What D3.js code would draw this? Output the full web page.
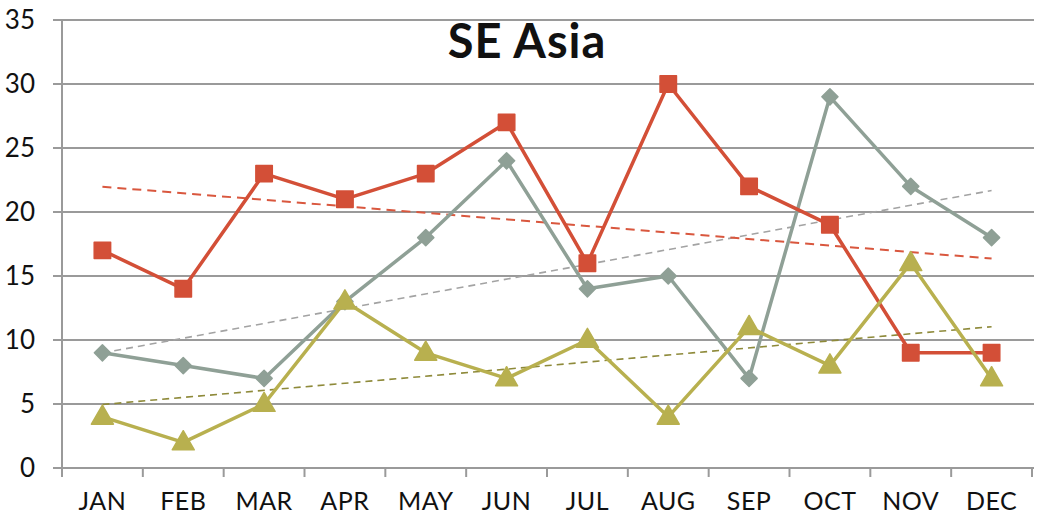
<!DOCTYPE html>
<html>
<head>
<meta charset="utf-8">
<script src="https://cdn.jsdelivr.net/npm/d3@7"></script>
<style>
  body { margin: 0; background: #fff; }
  svg text { font-family: "Lato", "DejaVu Sans", sans-serif; fill: #111; }
</style>
</head>
<body>
<div class="chart"></div>
<script>
// data
var months = ["JAN", "FEB", "MAR", "APR", "MAY", "JUN", "JUL", "AUG", "SEP", "OCT", "NOV", "DEC"];
var redValues = [17, 14, 23, 21, 23, 27, 16, 30, 22, 19, 9, 9];
var grayValues = [9, 8, 7, 13, 18, 24, 14, 15, 7, 29, 22, 18];
var oliveValues = [4, 2, 5, 13, 9, 7, 10, 4, 11, 8, 16, 7];
var yTicks = [0, 5, 10, 15, 20, 25, 30, 35];

var width = 1038, height = 518;
var margin = {top: 20, right: 6, bottom: 50, left: 62};
var w = width - margin.left - margin.right,
    h = height - margin.top - margin.bottom;

var series = [
  {values: grayValues, color: "#8fa096", trend: "#a3a3a3", marker: "diamond", trendDash: "7,5", trendWidth: 1.6},
  {values: redValues, color: "#d34f37", trend: "#d9573e", marker: "square", trendDash: "9,6", trendWidth: 2},
  {values: oliveValues, color: "#b8b04f", trend: "#8e8a3a", marker: "triangle", trendDash: "7,5", trendWidth: 1.6}
];

var x = d3.scaleBand().domain(months).range([0, w]);
var y = d3.scaleLinear().domain([0, 35]).range([h, 0]);
function cx(i) { return x(months[i]) + x.bandwidth() / 2; }

var svg = d3.select(".chart").append("svg")
    .attr("width", width)
    .attr("height", height);
var g = svg.append("g")
    .attr("transform", "translate(" + margin.left + "," + margin.top + ")");

// horizontal gridlines
g.selectAll(".grid").data(yTicks).enter().append("line")
    .attr("x1", -9).attr("x2", w + 2)
    .attr("y1", function(d) { return y(d); })
    .attr("y2", function(d) { return y(d); })
    .style("stroke", "#9a9a9a").style("stroke-width", 2);

// y labels
g.selectAll(".ylab").data(yTicks).enter().append("text")
    .attr("x", -27).attr("y", function(d) { return y(d); })
    .attr("dy", "0.36em")
    .attr("text-anchor", "end")
    .style("font-size", "26px")
    .text(function(d) { return d; });

// left axis line
g.append("line")
    .attr("x1", 0).attr("x2", 0).attr("y1", 0).attr("y2", h)
    .style("stroke", "#9a9a9a").style("stroke-width", 2);

// bottom ticks at category boundaries
var bounds = months.map(function(m) { return x(m); }).concat([w]);
g.selectAll(".xtick").data(bounds).enter().append("line")
    .attr("x1", function(d) { return d; }).attr("x2", function(d) { return d; })
    .attr("y1", h).attr("y2", h + 9)
    .style("stroke", "#9a9a9a").style("stroke-width", 2);

g.selectAll(".xlab").data(months).enter().append("text")
    .attr("x", function(d, i) { return cx(i); })
    .attr("y", h + 42)
    .attr("text-anchor", "middle")
    .style("font-size", "25px")
    .style("letter-spacing", "0.5px")
    .text(function(d) { return d; });

// linear trendlines (least squares)
function trendFor(vals) {
  var n = vals.length, mx = (n + 1) / 2, my = d3.mean(vals), sxy = 0, sxx = 0;
  vals.forEach(function(v, i) { sxy += (i + 1 - mx) * (v - my); sxx += (i + 1 - mx) * (i + 1 - mx); });
  var b = sxy / sxx, a = my - b * mx;
  return [a + b, a + b * n];
}

series.forEach(function(s) {
  var t = trendFor(s.values);
  g.append("line")
    .attr("x1", cx(0)).attr("y1", y(t[0]))
    .attr("x2", cx(s.values.length - 1)).attr("y2", y(t[1]))
    .style("stroke", s.trend).style("stroke-width", s.trendWidth)
    .style("stroke-dasharray", s.trendDash);
});

var line = d3.line()
    .x(function(d, i) { return cx(i); })
    .y(function(d) { return y(d); });

// diamond = square turned 45deg
var symbolTypes = {diamond: d3.symbolSquare, square: d3.symbolSquare, triangle: d3.symbolTriangle};
var symbolSizes = {diamond: 130, square: 270, triangle: 210};

series.forEach(function(s) {
  g.append("path")
    .datum(s.values)
    .attr("d", line)
    .style("fill", "none")
    .style("stroke", s.color)
    .style("stroke-width", 3.5)
    .style("stroke-linejoin", "round");

  var sym = d3.symbol().type(symbolTypes[s.marker]).size(symbolSizes[s.marker]);
  g.selectAll(".m-" + s.marker).data(s.values).enter().append("path")
    .attr("d", sym)
    .attr("transform", function(d, i) {
      var t = "translate(" + cx(i) + "," + (y(d) + (s.marker === "triangle" ? 1 : 0)) + ")";
      return s.marker === "diamond" ? t + "rotate(45)" : t;
    })
    .style("fill", s.color)
    .style("stroke", s.color)
    .style("stroke-width", 1.5)
    .style("stroke-linejoin", "round");
});

svg.append("text")
    .attr("x", 527).attr("y", 58)
    .attr("text-anchor", "middle")
    .style("font-size", "47px")
    .style("font-weight", "bold")
    .style("letter-spacing", "1px")
    .text("SE Asia");
</script>
</body>
</html>
